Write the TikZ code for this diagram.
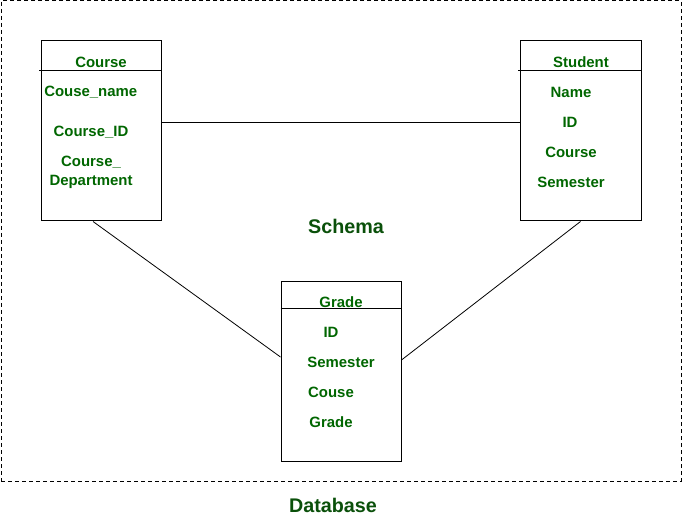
\documentclass[tikz,border=0pt]{standalone}
\usepackage{fontspec}
\setmainfont{Liberation Sans}
\definecolor{txtgreen}{RGB}{0,102,0}
\definecolor{darkgreen}{RGB}{10,80,10}
\begin{document}
\begin{tikzpicture}[x=0.75pt,y=-0.75pt,
  tbl/.style={draw=black, line width=0.75pt, minimum width=90pt, minimum height=135pt, inner sep=0pt},
  fld/.style={text=txtgreen, font=\bfseries\fontsize{11.2}{14.25}\selectfont, inner sep=0pt, align=center},
  big/.style={text=darkgreen, font=\bfseries\fontsize{14.8}{17}\selectfont, inner sep=0pt},
  conn/.style={draw=black, line width=0.6pt}]
\useasboundingbox (0,0) rectangle (684,516);
\node[draw=black, dashed, dash pattern=on 3pt off 2.25pt, line width=0.75pt, minimum width=510pt, minimum height=360pt, inner sep=0pt] (db) at (341,241) {};

\node[tbl] (course) at (101,131) {};
\node[tbl, minimum width=90.75pt] (student) at (580.5,131) {};
\node[tbl] (grade) at (341,371) {};

% header lines
\draw[line width=0.75pt] ([xshift=-1pt,yshift=-22.5pt]course.north west) -- ([yshift=-22.5pt]course.north east);
\draw[line width=0.75pt] ([xshift=-1pt,yshift=-22.5pt]student.north west) -- ([yshift=-22.5pt]student.north east);
\draw[line width=0.75pt] ([yshift=-21pt]grade.north west) -- ([yshift=-21pt]grade.north east);

% connectors
\draw[conn] ([yshift=6.75pt]course.east) -- ([yshift=6.75pt]student.west);
\draw[conn] ([xshift=-6pt]course.south) -- ([yshift=10.5pt]grade.west);
\draw[conn] (student.south) -- ([yshift=8.25pt]grade.east);

% Course fields
\node[fld] (c0) at (101,62) {Course};
\node[fld, anchor=west] (c1) at (44,92) {Couse\_name};
\node[fld] (c2) at (91,132) {Course\_ID};
\node[fld] (c3) at (91,172) {Course\_\\Department};

% Student fields
\node[fld] (s0) at (581,62) {Student};
\node[fld] (s1) at (571,92) {Name};
\node[fld] (s2) at (570,122) {ID};
\node[fld] (s3) at (571,152) {Course};
\node[fld] (s4) at (571,182) {Semester};

% Grade fields
\node[fld] (g0) at (341,302) {Grade};
\node[fld] (g1) at (331,332) {ID};
\node[fld] (g2) at (341,362) {Semester};
\node[fld] (g3) at (331,392) {Couse};
\node[fld] (g4) at (331,422) {Grade};

\node[big] (schema) at (346,226) {Schema};
\node[big] (dbl) at (333,505) {Database};
\end{tikzpicture}
\end{document}
